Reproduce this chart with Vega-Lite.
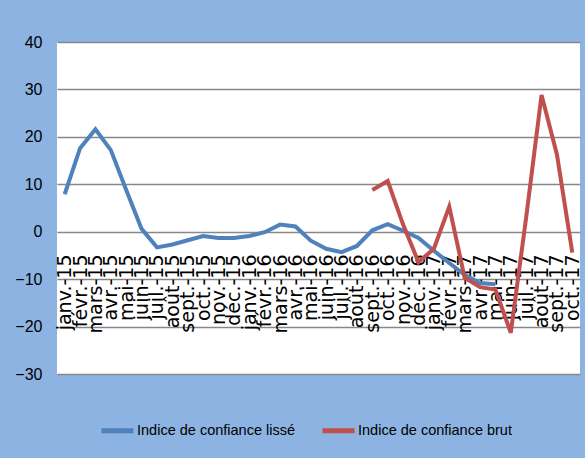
{
  "$schema": "https://vega.github.io/schema/vega-lite/v6.json",
  "width": 523,
  "height": 332,
  "autosize": {"type": "none"},
  "padding": {"left": 57, "top": 42, "right": 5, "bottom": 84},
  "background": "#8DB3E2",
  "config": {"view": {"fill": "white", "stroke": null}},
  "data": {
    "values": [
      {"mois": "janv.-15", "s": "Indice de confiance lissé", "v": 7.9},
      {"mois": "févr.-15", "s": "Indice de confiance lissé", "v": 17.6},
      {"mois": "mars-15", "s": "Indice de confiance lissé", "v": 21.6},
      {"mois": "avr.-15", "s": "Indice de confiance lissé", "v": 17.2},
      {"mois": "mai-15", "s": "Indice de confiance lissé", "v": 8.8},
      {"mois": "juin-15", "s": "Indice de confiance lissé", "v": 0.6},
      {"mois": "juil.-15", "s": "Indice de confiance lissé", "v": -3.3},
      {"mois": "août-15", "s": "Indice de confiance lissé", "v": -2.7},
      {"mois": "sept.-15", "s": "Indice de confiance lissé", "v": -1.8},
      {"mois": "oct.-15", "s": "Indice de confiance lissé", "v": -0.9},
      {"mois": "nov.-15", "s": "Indice de confiance lissé", "v": -1.3},
      {"mois": "déc.-15", "s": "Indice de confiance lissé", "v": -1.3},
      {"mois": "janv.-16", "s": "Indice de confiance lissé", "v": -0.9},
      {"mois": "févr.-16", "s": "Indice de confiance lissé", "v": -0.1},
      {"mois": "mars-16", "s": "Indice de confiance lissé", "v": 1.5},
      {"mois": "avr.-16", "s": "Indice de confiance lissé", "v": 1.1},
      {"mois": "mai-16", "s": "Indice de confiance lissé", "v": -1.9},
      {"mois": "juin-16", "s": "Indice de confiance lissé", "v": -3.6},
      {"mois": "juil.-16", "s": "Indice de confiance lissé", "v": -4.3},
      {"mois": "août-16", "s": "Indice de confiance lissé", "v": -3.0},
      {"mois": "sept.-16", "s": "Indice de confiance lissé", "v": 0.3},
      {"mois": "oct.-16", "s": "Indice de confiance lissé", "v": 1.6},
      {"mois": "nov.-16", "s": "Indice de confiance lissé", "v": 0.2},
      {"mois": "déc.-16", "s": "Indice de confiance lissé", "v": -1.3},
      {"mois": "janv.-17", "s": "Indice de confiance lissé", "v": -4.0},
      {"mois": "févr.-17", "s": "Indice de confiance lissé", "v": -6.6},
      {"mois": "mars-17", "s": "Indice de confiance lissé", "v": -9.1},
      {"mois": "avr.-17", "s": "Indice de confiance lissé", "v": -10.8},
      {"mois": "mai-17", "s": "Indice de confiance lissé", "v": -11.1},
      {"mois": "sept.-16", "s": "Indice de confiance brut", "v": 8.8},
      {"mois": "oct.-16", "s": "Indice de confiance brut", "v": 10.7},
      {"mois": "nov.-16", "s": "Indice de confiance brut", "v": 1.5},
      {"mois": "déc.-16", "s": "Indice de confiance brut", "v": -6.4},
      {"mois": "janv.-17", "s": "Indice de confiance brut", "v": -3.6},
      {"mois": "févr.-17", "s": "Indice de confiance brut", "v": 5.3},
      {"mois": "mars-17", "s": "Indice de confiance brut", "v": -9.7},
      {"mois": "avr.-17", "s": "Indice de confiance brut", "v": -11.7},
      {"mois": "mai-17", "s": "Indice de confiance brut", "v": -12.2},
      {"mois": "juin-17", "s": "Indice de confiance brut", "v": -21.3},
      {"mois": "juil.-17", "s": "Indice de confiance brut", "v": 3.0},
      {"mois": "août-17", "s": "Indice de confiance brut", "v": 28.8},
      {"mois": "sept.-17", "s": "Indice de confiance brut", "v": 16.3},
      {"mois": "oct.-17", "s": "Indice de confiance brut", "v": -4.4}
    ]
  },
  "mark": {"type": "line", "strokeWidth": 4},
  "encoding": {
    "x": {
      "field": "mois",
      "type": "ordinal",
      "sort": null,
      "axis": {
        "title": null,
        "labelAngle": -90,
        "offset": -142,
        "domain": false,
        "ticks": false,
        "tickSize": 0,
        "grid": false,
        "labelPadding": 22,
        "labelFont": "DejaVu Sans",
        "labelFontSize": 19,
        "labelColor": "black"
      }
    },
    "y": {
      "field": "v",
      "type": "quantitative",
      "scale": {"domain": [-30, 40], "nice": false},
      "axis": {
        "title": null,
        "values": [-30, -20, -10, 0, 10, 20, 30, 40],
        "domain": false,
        "ticks": false,
        "tickSize": 0,
        "labelPadding": 15,
        "grid": true,
        "gridColor": "#888888",
        "gridWidth": 1.5,
        "labelFont": "Liberation Sans",
        "labelFontSize": 16,
        "labelColor": "black"
      }
    },
    "color": {
      "field": "s",
      "type": "nominal",
      "sort": ["Indice de confiance lissé", "Indice de confiance brut"],
      "scale": {"range": ["#4F81BD", "#C0504D"]},
      "legend": {
        "title": null,
        "orient": "none",
        "legendX": 42,
        "legendY": 370,
        "direction": "horizontal",
        "padding": 0,
        "symbolType": "stroke",
        "symbolStrokeWidth": 5,
        "symbolSize": 1024,
        "labelOffset": 1,
        "columnPadding": 17,
        "labelLimit": 400,
        "labelFont": "Liberation Sans",
        "labelFontSize": 14.5,
        "labelColor": "black"
      }
    }
  }
}
